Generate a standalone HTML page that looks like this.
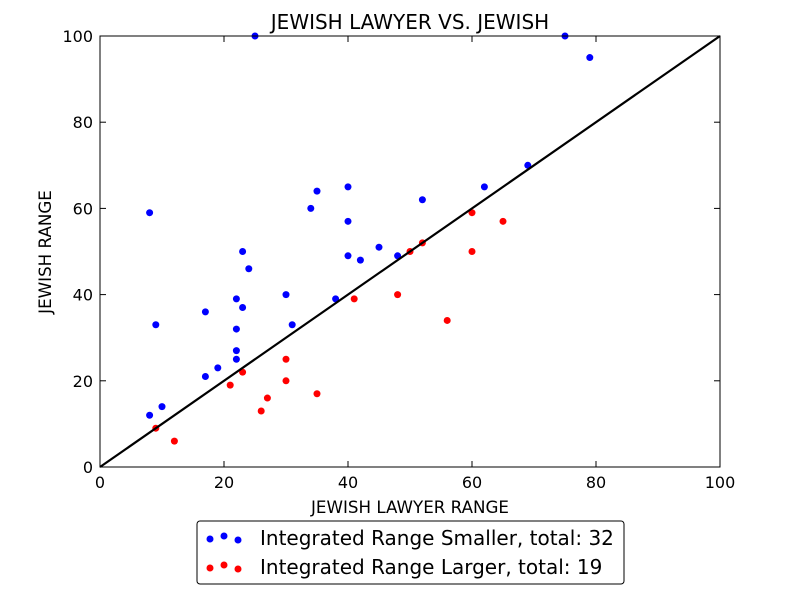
<!DOCTYPE html>
<html><head><meta charset="utf-8">
<style>
html,body{margin:0;padding:0;background:#fff;}
svg text{font-family:"DejaVu Sans","Liberation Sans",sans-serif;}
</style></head>
<body>
<svg id="chart" width="800" height="600" xmlns="http://www.w3.org/2000/svg">
<rect width="800" height="600" fill="#fff"/>
<g id="marks"></g>
<line x1="100" y1="467" x2="720" y2="36" stroke="#000" stroke-width="2.2"/>
<rect x="100" y="36" width="620" height="431" fill="none" stroke="#000" stroke-width="1"/>
<g id="ticks"></g>
<text x="410" y="29" font-size="20" text-anchor="middle">JEWISH LAWYER VS. JEWISH</text>
<text x="410" y="513" font-size="16.7" text-anchor="middle">JEWISH LAWYER RANGE</text>
<text x="51" y="252" font-size="16.7" text-anchor="middle" transform="rotate(-90 51 252)">JEWISH RANGE</text>
<g>
<rect x="197" y="521" width="427" height="63" rx="3" fill="#fff" stroke="#000" stroke-width="1"/>
<g>
<circle cx="210" cy="539" r="3.5" fill="#0000ff"/><circle cx="224" cy="536" r="3.5" fill="#0000ff"/><circle cx="238" cy="540" r="3.5" fill="#0000ff"/>
<text x="260" y="545" font-size="20">Integrated Range Smaller, total: 32</text></g>
<g>
<circle cx="210" cy="568" r="3.5" fill="#ff0000"/><circle cx="224" cy="565" r="3.5" fill="#ff0000"/><circle cx="238" cy="569" r="3.5" fill="#ff0000"/>
<text x="260" y="574" font-size="20">Integrated Range Larger, total: 19</text></g>
</g>
</svg>
<script>
const blueX=[25,75,79,8,69,62,52,40,35,34,40,23,40,42,45,48,24,22,30,38,17,23,9,31,22,22,22,17,19,8,10];
const blueY=[100,100,95,59,70,65,62,65,64,60,57,50,49,48,51,49,46,39,40,39,36,37,33,33,32,27,25,21,23,12,14];
const redX=[9,12,21,23,26,27,30,30,35,41,48,50,52,56,60,60,65];
const redY=[9,6,19,22,13,16,25,20,17,39,40,50,52,34,59,50,57];
const tickVals=[0,20,40,60,80,100];
const NS="http://www.w3.org/2000/svg";
function sx(v){return 100+v*6.2;}
function sy(v){return 467-v*4.31;}
const marks=document.getElementById('marks');
function dots(xs,ys,color,name){
  for(let i=0;i<xs.length;i++){
    const c=document.createElementNS(NS,'circle');
    c.setAttribute('cx',sx(xs[i]));c.setAttribute('cy',sy(ys[i]));
    c.setAttribute('r',3.5);c.setAttribute('fill',color);
    
    
    marks.appendChild(c);
  }
}
dots(blueX,blueY,'#0000ff','blue-point');
dots(redX,redY,'#ff0000','red-point');
const tg=document.getElementById('ticks');
function add(tag,attrs,txt){const e=document.createElementNS(NS,tag);for(const k in attrs)e.setAttribute(k,attrs[k]);if(txt!==undefined)e.textContent=txt;tg.appendChild(e);return e;}
tickVals.forEach(v=>{
  const x=sx(v),y=sy(v);
  add('line',{x1:x,y1:467,x2:x,y2:461,stroke:'#000'});
  add('line',{x1:x,y1:36,x2:x,y2:42,stroke:'#000'});
  add('line',{x1:100,y1:y,x2:106,y2:y,stroke:'#000'});
  add('line',{x1:720,y1:y,x2:714,y2:y,stroke:'#000'});
  const xt=add('text',{x:x,y:488,'font-size':16,'text-anchor':'middle'},v);
  
  
  const yt=add('text',{x:93,y:y+6,'font-size':16,'text-anchor':'end'},v);
  
  
});
</script>
</body></html>
